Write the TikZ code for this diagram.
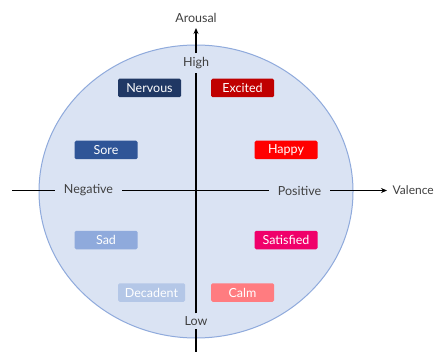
\documentclass[tikz,border=0pt]{standalone}
\usepackage{fontspec}
\setmainfont{Lato}
\usetikzlibrary{arrows.meta}
\definecolor{circfill}{HTML}{DAE3F3}
\definecolor{circline}{HTML}{8FAADC}
\definecolor{cnervous}{HTML}{203864}
\definecolor{cexcited}{HTML}{C00000}
\definecolor{csore}{HTML}{2F5597}
\definecolor{chappy}{HTML}{FF0000}
\definecolor{csad}{HTML}{8FAADC}
\definecolor{csatisfied}{HTML}{F0006A}
\definecolor{cdecadent}{HTML}{B4C7E7}
\definecolor{ccalm}{HTML}{FF7C80}
\definecolor{labgray}{HTML}{404040}
\tikzset{
  emo/.style={rectangle, rounded corners=1.5pt, text=white, minimum width=63pt, minimum height=18.5pt, inner sep=0pt, font=\fontsize{12.5}{14}\selectfont, anchor=center},
  axis/.style={line width=1.4pt, black},
  axlab/.style={text=labgray, font=\fontsize{12.5}{14}\selectfont, inner sep=0pt},
}
\begin{document}
\begin{tikzpicture}[x=1pt,y=-1pt]
\useasboundingbox (0,0) rectangle (435,352);
\fill[white] (0,0) rectangle (435,352);
\draw[circline, fill=circfill, line width=1pt] (196,191.5) ellipse [x radius=157, y radius=146.5];
% labels
\node[axlab] (arousal) at (196,18) {Arousal};
\node[axlab] (high) at (196,63) {High};
\node[axlab] (low) at (196,321) {Low};
\node[axlab] (neg) at (88.5,190.5) {Negative};
\node[axlab] (pos) at (299.5,190.5) {Positive};
\node[axlab, anchor=west, font=\fontsize{12}{14}\selectfont] (val) at (392.5,190.5) {Valence};
\coordinate (bot) at (196,352);
\coordinate (left) at (12,190.5);
\coordinate (top) at (196,28);
\coordinate (right) at (387,190.5);
% axes
\draw[axis] (bot) -- ([yshift=-3pt]low.south);
\draw[axis] ([yshift=3pt]low.north) -- ([yshift=-4pt]high.south);
\draw[axis, -{Stealth[length=6pt,width=5pt]}] ([yshift=4pt]high.north) -- (top);
\draw[axis] (left) -- ([xshift=-9pt]neg.west);
\draw[axis] ([xshift=9pt]neg.east) -- ([xshift=-9pt]pos.west);
\draw[axis, -{Stealth[length=6pt,width=5pt]}] ([xshift=9pt]pos.east) -- (right);
% emotion boxes
\node[emo, fill=cnervous] (nervous) at (149.5,88) {Nervous};
\node[emo, fill=cexcited] (excited) at (242.5,88) {Excited};
\node[emo, fill=csore] (sore) at (106,150) {Sore};
\node[emo, fill=chappy] (happy) at (286,150) {Happy};
\node[emo, fill=csad] (sad) at (106,240) {Sad};
\node[emo, fill=csatisfied] (satisfied) at (286,240) {Satisfied};
\node[emo, fill=cdecadent, minimum width=67pt] (decadent) at (151.5,292.5) {Decadent};
\node[emo, fill=ccalm] (calm) at (242.5,292.5) {Calm};
\end{tikzpicture}
\end{document}
